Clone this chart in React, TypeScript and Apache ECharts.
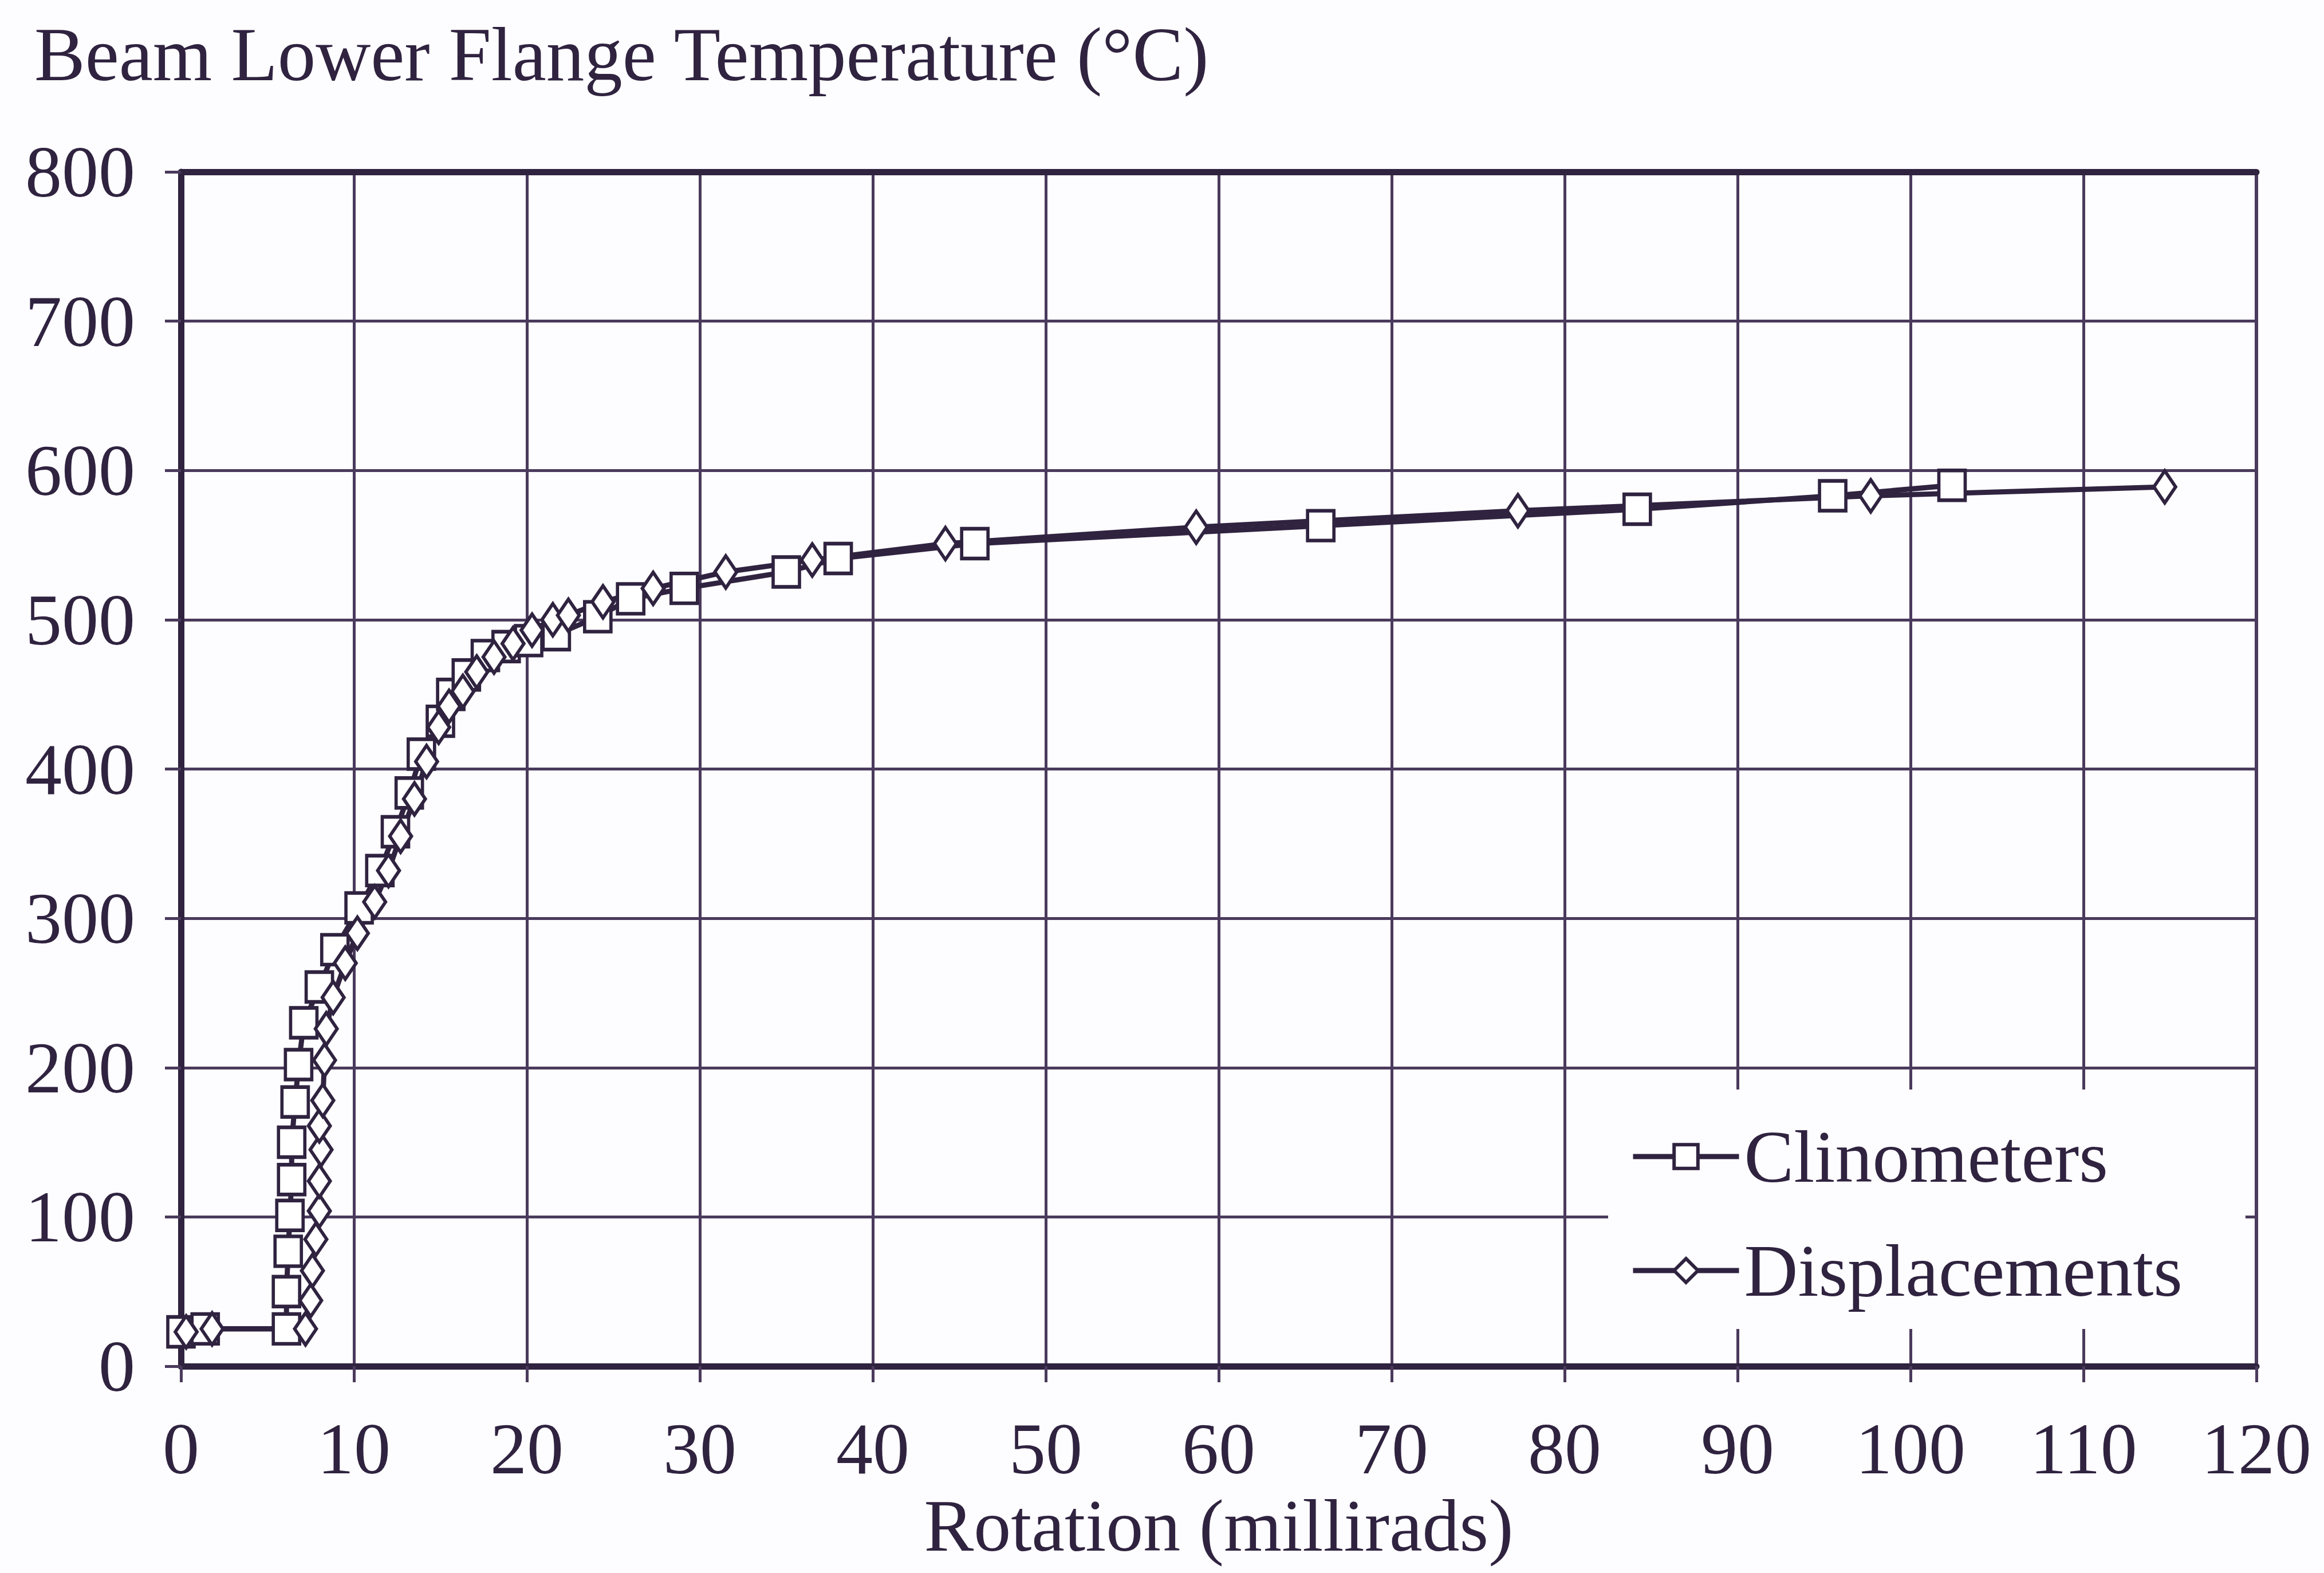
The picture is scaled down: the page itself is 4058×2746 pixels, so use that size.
import { useEffect, useRef } from "react";
import * as echarts from "echarts";

// Beam lower flange temperature against connection rotation
const seriesNames = ["Clinometers", "Displacements"];

const clinometerRotation = [
  0, 1.4, 6.1, 6.1, 6.2, 6.3, 6.4, 6.4, 6.6, 6.8, 7.1, 8.0, 8.9, 10.3, 11.5, 12.4,
  13.2, 13.9, 15.0, 15.6, 16.5, 17.6, 18.8, 20.1, 21.7, 24.1, 26.0, 29.1, 35.0,
  38.0, 45.9, 65.9, 84.2, 95.5, 102.4,
];
const clinometerTemp = [
  23, 25, 25, 50, 77, 101, 125, 150, 177, 202, 230, 254, 279, 307, 332, 358,
  384, 410, 432, 450, 463, 476, 482, 486, 490, 502, 514, 521, 532,
  541, 551, 563, 574, 583, 590,
];

const displacementRotation = [
  0.3, 1.8, 7.2, 7.5, 7.6, 7.8, 8.0, 8.0, 8.1, 8.0, 8.2, 8.3, 8.4, 8.8, 9.5, 10.2,
  11.2, 12.0, 12.7, 13.5, 14.2, 14.9, 15.5, 16.3, 17.1, 18.1, 19.2, 20.3, 21.5,
  22.4, 24.4, 27.3, 31.5, 36.5, 44.2, 58.7, 77.3, 97.7, 114.7,
];
const displacementTemp = [
  23, 25, 25, 44, 64, 85, 104, 124, 145, 161, 178, 205, 226, 247, 270, 290,
  311, 332, 355, 380, 405, 428, 442, 452, 465, 475, 484, 493, 500,
  503, 512, 521, 532, 540, 551, 562, 573, 583, 589,
];

const xAxisTitle = "Rotation (millirads)";
const yAxisTitle = "Beam Lower Flange Temperature (°C)";
const xRange = [0, 120];
const xStep = 10;
const yRange = [0, 800];
const yStep = 100;

const INK = "#2f2340";
const GRID = "#4a3a5c";
const PAPER = "#fdfcfe";
const FONT = "'Liberation Serif', 'Times New Roman', serif";

export default function App() {
  const ref = useRef<HTMLDivElement>(null);

  useEffect(() => {
    if (!ref.current) return;
    const chart = echarts.init(ref.current, null, { renderer: "svg" });

    const pairs = (xs: number[], ys: number[]) => xs.map((x, i) => [x, ys[i]]);

    const lineSeries = (name: string, data: number[][], symbol: string, size: number[]) => ({
      name,
      type: "line",
      data,
      symbol,
      symbolSize: size,
      showAllSymbol: true,
      color: INK,
      lineStyle: { color: INK, width: 9 },
      itemStyle: { color: "#ffffff", borderColor: INK, borderWidth: 6 },
      z: 3,
    });

    chart.setOption({
      animation: false,
      backgroundColor: PAPER,
      title: {
        text: yAxisTitle,
        left: 60,
        top: 28,
        padding: 0,
        textStyle: { fontFamily: FONT, fontSize: 133, fontWeight: "normal", color: INK },
      },
      grid: {
        left: 316,
        right: 118,
        top: 300,
        bottom: 361,
        show: true,
        borderColor: GRID,
        borderWidth: 6,
        backgroundColor: "transparent",
      },
      legend: {
        orient: "vertical",
        left: 2808,
        top: 1902,
        padding: [52, 110, 37, 39],
        itemGap: 69,
        itemWidth: 185,
        itemHeight: 52,
        backgroundColor: PAPER,
        data: seriesNames,
        lineStyle: { color: INK, width: 9 },
        itemStyle: { color: "#ffffff", borderColor: INK, borderWidth: 6 },
        textStyle: { fontFamily: FONT, fontSize: 130, color: INK, lineHeight: 130, padding: [0, 0, 0, 4] },
      },
      xAxis: [
        {
          type: "value",
          min: xRange[0],
          max: xRange[1],
          interval: xStep,
          name: xAxisTitle,
          nameLocation: "middle",
          nameGap: 212,
          nameTextStyle: { fontFamily: FONT, fontSize: 130, color: INK },
          axisLine: { show: true, lineStyle: { color: INK, width: 11 } },
          axisTick: { show: true, length: 28, lineStyle: { color: GRID, width: 5 } },
          axisLabel: { margin: 80, fontFamily: FONT, fontSize: 128, color: INK },
          splitLine: { show: true, lineStyle: { color: GRID, width: 5 } },
        },
        {
          type: "value",
          position: "top",
          min: xRange[0],
          max: xRange[1],
          interval: xStep,
          axisLine: { show: true, onZero: false, lineStyle: { color: INK, width: 11 } },
          axisTick: { show: false },
          axisLabel: { show: false },
          splitLine: { show: false },
        },
      ],
      yAxis: {
        type: "value",
        min: yRange[0],
        max: yRange[1],
        interval: yStep,
        axisLine: { show: true, lineStyle: { color: INK, width: 11 } },
        axisTick: { show: true, length: 28, lineStyle: { color: GRID, width: 5 } },
        axisLabel: { margin: 80, fontFamily: FONT, fontSize: 128, color: INK },
        splitLine: { show: true, lineStyle: { color: GRID, width: 5 } },
      },
      series: [
        lineSeries(seriesNames[0], pairs(clinometerRotation, clinometerTemp), "rect", [46, 52]),
        lineSeries(seriesNames[1], pairs(displacementRotation, displacementTemp), "diamond", [38, 56]),
      ],
    });

    return () => chart.dispose();
  }, []);

  return (
    <div
      ref={ref}
      style={{ position: "absolute", left: 0, top: 0, width: 4058, height: 2746, background: PAPER }}
    />
  );
}
